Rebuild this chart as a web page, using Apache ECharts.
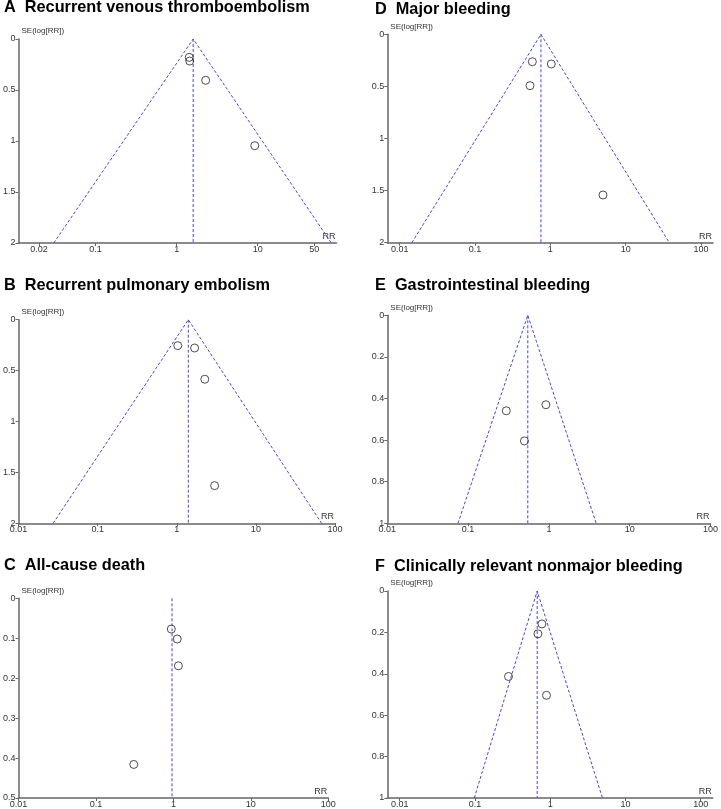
<!DOCTYPE html>
<html><head><meta charset="utf-8">
<script src="https://cdn.jsdelivr.net/npm/echarts@6/dist/echarts.min.js"></script>
<style>html,body{margin:0;padding:0;background:#fff}#c{width:721px;height:809px}</style>
</head><body><div id="c"></div>
<script>
// ---- data (RR on log scale, SE of log RR) ----
const titles = ["A  Recurrent venous thromboembolism","B  Recurrent pulmonary embolism","C  All-cause death","D  Major bleeding","E  Gastrointestinal bleeding","F  Clinically relevant nonmajor bleeding"];
const rrA = [1.43, 1.45, 2.28, 9.2];     const seA = [0.18, 0.216, 0.405, 1.046];
const rrB = [1.03, 1.68, 2.26, 3.01];    const seB = [0.255, 0.278, 0.585, 1.63];
const rrC = [0.94, 1.12, 1.16, 0.308];   const seC = [0.077, 0.102, 0.169, 0.416];
const rrD = [0.577, 1.03, 0.537, 5.0];   const seD = [0.263, 0.285, 0.493, 1.542];
const rrE = [0.297, 0.918, 0.498];       const seE = [0.459, 0.43, 0.604];
const rrF = [0.776, 0.687, 0.279, 0.893];const seF = [0.159, 0.207, 0.413, 0.504];
// pooled RR (funnel apex) and funnel limits at the bottom of the y axis
const pooled = [1.6, 1.40, 0.96, 0.75, 0.548, 0.672];
const funnelLow  = [0.0305, 0.0274, null, 0.0145, 0.075, 0.098];
const funnelHigh = [81, 67.6, null, 38, 3.85, 4.95];
// axis ticks
const xTicks = [[0.02,0.1,1,10,50],[0.01,0.1,1,10,100],[0.01,0.1,1,10,100],[0.01,0.1,1,10,100],[0.01,0.1,1,10,100],[0.01,0.1,1,10,100]];
const xRange = [[0.0112,93.8],[0.01,100],[0.01,100],[0.00684,144.5],[0.01,100],[0.00684,144.5]];
const yMax = [2, 2, 0.5, 2, 1, 1];
const yStep = [0.5, 0.5, 0.1, 0.5, 0.2, 0.2];

const rrs = [rrA, rrB, rrC, rrD, rrE, rrF];
const ses = [seA, seB, seC, seD, seE, seF];

// ---- layout ----
const grids = [
  {left:15, top:39, width:321.5, height:204},
  {left:15, top:319.7, width:320, height:203.6},
  {left:15, top:598.3, width:313.3, height:200.4},
  {left:387.3, top:34.3, width:325.7, height:208.4},
  {left:387.3, top:315.3, width:326, height:208},
  {left:387.3, top:591, width:325.4, height:207.7}
];
const titlePos = [[4,0],[4,278],[4,558],[375,1.5],[375,278],[375,559]];
const lg = Math.log10;
const FONT = 'Liberation Sans, Arial, sans-serif';
const BLUE = '#4a44dc';
const AX = '#666';

const option = {
  animation:false,
  backgroundColor:'#fff',
  title: titles.map((t,i)=>({text:t,left:titlePos[i][0],top:titlePos[i][1],padding:0,
     textStyle:{fontFamily:FONT,fontSize:16.3,fontWeight:'bold',color:'#000'}})),
  grid: grids.map(g=>Object.assign({containLabel:false},g)),
  xAxis: grids.map((g,i)=>({
    type:'value', gridIndex:i, min:lg(xRange[i][0]), max:lg(xRange[i][1]),
    name:'RR', nameLocation:'end', nameGap:-1,
    nameTextStyle:{fontFamily:FONT,fontSize:9,color:'#333',align:'right',verticalAlign:'bottom',padding:[0,0,2,0]},
    axisLine:{show:true,onZero:false,lineStyle:{color:AX,width:1.5}},
    axisTick:{show:true,length:3,customValues:xTicks[i].map(lg),lineStyle:{color:AX,width:1}},
    axisLabel:{show:true,customValues:xTicks[i].map(lg),margin:2,fontFamily:FONT,fontSize:9,color:'#333',
      formatter:v=>String(+Math.pow(10,v).toPrecision(3))},
    splitLine:{show:false}
  })),
  yAxis: grids.map((g,i)=>({
    type:'value', gridIndex:i, inverse:true, min:0, max:yMax[i], interval:yStep[i],
    name:'SE(log[RR])', nameLocation:'start', nameGap:4,
    nameTextStyle:{fontFamily:FONT,fontSize:8,color:'#333',align:'left',verticalAlign:'bottom',padding:[0,0,0,3]},
    axisLine:{show:true,onZero:false,lineStyle:{color:AX,width:1.5}},
    axisTick:{show:true,length:3,lineStyle:{color:AX,width:1}},
    axisLabel:{show:true,margin:3,fontFamily:FONT,fontSize:9,color:'#333'},
    splitLine:{show:false}
  })),
  series: []
};

for (let i=0;i<6;i++){
  const p = lg(pooled[i]);
  if (funnelLow[i] !== null){
    option.series.push({type:'line',xAxisIndex:i,yAxisIndex:i,symbol:'none',silent:true,
      color:BLUE,lineStyle:{color:BLUE,width:1,type:[3,2]},
      data:[[lg(funnelLow[i]),yMax[i]],[p,0],[lg(funnelHigh[i]),yMax[i]]]});
  }
  option.series.push({type:'line',xAxisIndex:i,yAxisIndex:i,symbol:'none',silent:true,
    color:BLUE,lineStyle:{color:BLUE,width:1,type:[3,2]},
    data:[[p,0],[p,yMax[i]]]});
  option.series.push({type:'scatter',xAxisIndex:i,yAxisIndex:i,symbol:'circle',symbolSize:8,z:5,
    itemStyle:{color:'rgba(255,255,255,0)',borderColor:'#222',borderWidth:1},
    data:rrs[i].map((r,k)=>[lg(r),ses[i][k]])});
}

const chart = echarts.init(document.getElementById('c'),null,{renderer:'canvas'});
chart.setOption(option);
</script>
</body></html>
